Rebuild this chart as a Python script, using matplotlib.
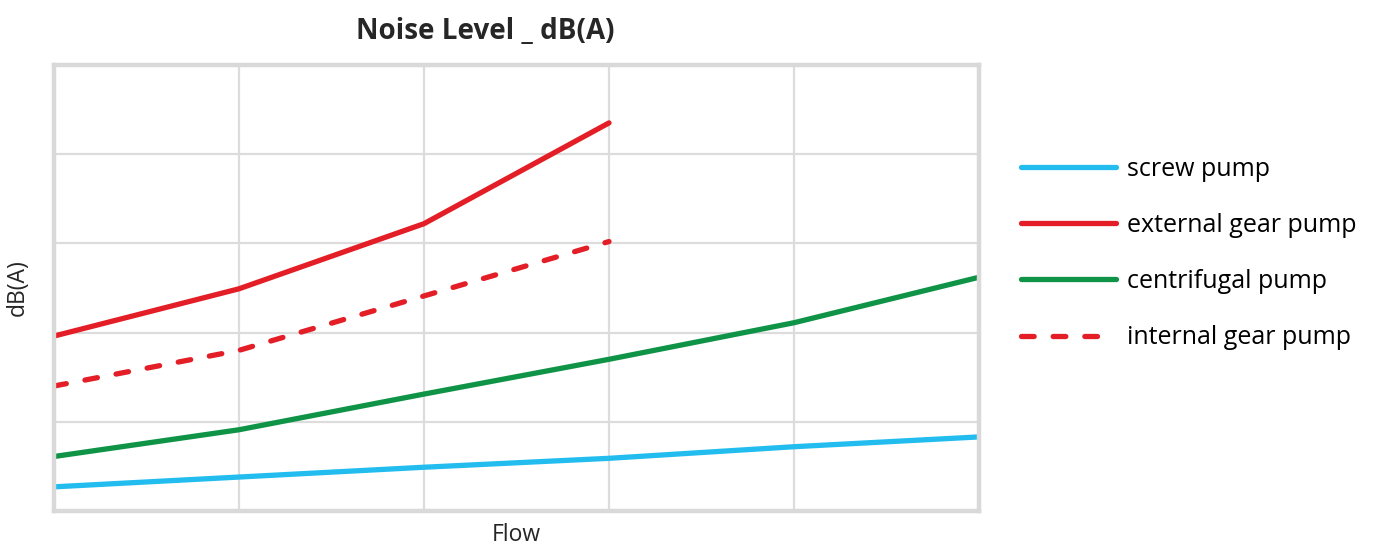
import numpy as np
import matplotlib.pyplot as plt

plt.rcParams['font.family'] = ['Open Sans', 'DejaVu Sans']

flow = [0, 1, 2, 3, 4, 5]
screw = [0.27, 0.38, 0.49, 0.59, 0.72, 0.83]
external_gear = [1.96, 2.49, 3.22, 4.35]
centrifugal = [0.61, 0.91, 1.31, 1.70, 2.11, 2.62]
internal_gear = [1.40, 1.80, 2.41, 3.02]

fig = plt.figure(figsize=(13.81, 5.5), dpi=100)
ax = fig.add_axes([0.039, 0.071, 0.670, 0.811])

ax.plot(flow, screw, color='#22bdee', lw=3.8, solid_capstyle='round', label='screw pump')
ax.plot(flow[:4], external_gear, color='#e31e26', lw=3.8, solid_capstyle='round', label='external gear pump')
ax.plot(flow, centrifugal, color='#0f9447', lw=3.8, solid_capstyle='round', label='centrifugal pump')
ax.plot(flow[:4], internal_gear, color='#e31e26', lw=3.8, ls=(0, (2.4, 3.6)), dash_capstyle='round', label='internal gear pump')

ax.set_xlim(0, 5)
ax.set_ylim(0, 5)
ax.set_xticks([1, 2, 3, 4])
ax.set_yticks([1, 2, 3, 4])
ax.tick_params(length=0, labelbottom=False, labelleft=False)
ax.grid(True, color='#dcdcdc', lw=1.6)
for s in ax.spines.values():
    s.set_color('#d9d9d9')
    s.set_linewidth(3.2)

ax.set_title('Noise Level _ dB(A)', fontsize=20, fontweight='bold', color='#262626', pad=19, x=0.4665)
ax.set_xlabel('Flow', fontsize=16.5, color='#262626', labelpad=9)
ax.set_ylabel('dB(A)', fontsize=16.5, color='#262626', labelpad=17)

fig.legend(loc='upper left', bbox_to_anchor=(0.723, 0.756), frameon=False,
           fontsize=18, handlelength=3.8, handletextpad=0.46, labelspacing=1.25)

fig.savefig('out.png', dpi=100)
